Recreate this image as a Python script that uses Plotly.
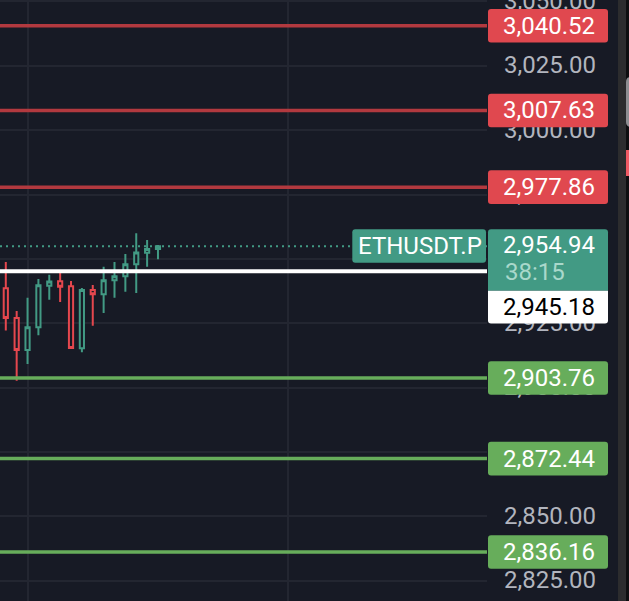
import plotly.graph_objects as go

# ---------------- data ----------------
candle_x = list(range(15))
opens = [2938.6, 2927.0, 2914.6, 2923.5, 2939.6, 2941.3, 2939.4, 2915.3,
         2937.9, 2936.3, 2941.7, 2943.3, 2947.9, 2952.4, 2953.8]
highs = [2948.8, 2929.8, 2934.9, 2942.2, 2943.8, 2944.9, 2941.4, 2938.7,
         2939.9, 2946.9, 2948.8, 2951.9, 2960.0, 2957.3, 2955.4]
lows = [2922.2, 2902.7, 2909.2, 2920.3, 2934.1, 2933.3, 2915.3, 2913.7,
        2924.0, 2929.0, 2934.9, 2937.2, 2936.8, 2946.9, 2949.9]
closes = [2927.0, 2914.6, 2923.5, 2939.8, 2941.2, 2939.2, 2915.4, 2937.9,
          2936.3, 2941.7, 2943.3, 2947.9, 2952.5, 2953.8, 2954.94]

resistance_levels = [3040.52, 3007.63, 2977.86]
support_levels = [2903.76, 2872.44, 2836.16]
white_level = 2945.18
last_price = 2954.94
countdown = "38:15"
symbol = "ETHUSDT.P"
tick_values = [2825, 2850, 2875, 2900, 2925, 2950, 2975, 3000, 3025, 3050]

# ---------------- style ----------------
BG = "#171a25"
GRID = "#232631"
TEAL = "#429a84"
RED_C = "#e5474e"
RED_LINE = "#b2393f"
RED_LABEL = "#e0484f"
GREEN = "#67ad5b"
FONT = "Roboto"
FS = 24


def rpath(x0, x1, y0, y1, rtl=3, rtr=3, rbr=3, rbl=3):
    # pixel path, y positive up: y1 top, y0 bottom
    return (f"M {x0 + rtl} {y1} L {x1 - rtr} {y1} Q {x1} {y1} {x1} {y1 - rtr} "
            f"L {x1} {y0 + rbr} Q {x1} {y0} {x1 - rbr} {y0} "
            f"L {x0 + rbl} {y0} Q {x0} {y0} {x0} {y0 + rbl} "
            f"L {x0} {y1 - rtl} Q {x0} {y1} {x0 + rtl} {y1} Z")


fig = go.Figure(go.Candlestick(
    x=candle_x, open=opens, high=highs, low=lows, close=closes,
    increasing=dict(line=dict(color=TEAL, width=2), fillcolor=BG),
    decreasing=dict(line=dict(color=RED_C, width=2), fillcolor=BG),
    whiskerwidth=0, hoverinfo="skip", showlegend=False,
))

shapes = []
annotations = []

# dotted last-price line
shapes.append(dict(type="line", xref="paper", yref="y", x0=0, x1=1,
                   y0=last_price, y1=last_price, layer="above",
                   line=dict(color=TEAL, width=2, dash="2px,4px")))

# horizontal level lines
for v in resistance_levels:
    shapes.append(dict(type="line", xref="paper", yref="y", x0=0, x1=1, y0=v, y1=v,
                       layer="above", line=dict(color=RED_LINE, width=3.5)))
for v in support_levels:
    shapes.append(dict(type="line", xref="paper", yref="y", x0=0, x1=1, y0=v, y1=v,
                       layer="above", line=dict(color=GREEN, width=3.5)))
shapes.append(dict(type="line", xref="paper", yref="y", x0=0, x1=1,
                   y0=white_level, y1=white_level, layer="above",
                   line=dict(color="#ffffff", width=4)))


def price_label(v, color):
    shapes.append(dict(type="path", xref="paper", yref="y", xsizemode="pixel",
                       ysizemode="pixel", xanchor=1, yanchor=v, layer="above",
                       path=rpath(1, 121, -16.8, 16.8), fillcolor=color,
                       line=dict(width=0)))
    annotations.append(dict(xref="paper", yref="y", x=1, y=v, xanchor="right",
                            yanchor="middle", xshift=110, showarrow=False,
                            text=f"{v:,.2f}", font=dict(family=FONT, size=FS, color="#ffffff")))


for v in resistance_levels:
    price_label(v, RED_LABEL)
for v in support_levels:
    price_label(v, GREEN)

# last price block
shapes.append(dict(type="path", xref="paper", yref="y", xsizemode="pixel",
                   ysizemode="pixel", xanchor=1, yanchor=last_price, layer="above",
                   path=rpath(1, 121, -44.5, 16.9, 3, 3, 0, 0), fillcolor=TEAL,
                   line=dict(width=0)))
shapes.append(dict(type="path", xref="paper", yref="y", xsizemode="pixel",
                   ysizemode="pixel", xanchor=1, yanchor=last_price, layer="above",
                   path=rpath(1, 121, -77.3, -44.5, 0, 0, 3, 3), fillcolor="#ffffff",
                   line=dict(width=0)))
shapes.append(dict(type="path", xref="paper", yref="y", xsizemode="pixel",
                   ysizemode="pixel", xanchor=1, yanchor=last_price, layer="above",
                   path=rpath(-134.7, -1, -16.5, 16.9), fillcolor=TEAL,
                   line=dict(width=0)))
annotations.append(dict(xref="paper", yref="y", x=1, y=last_price, xanchor="right",
                        yanchor="middle", xshift=110, yshift=1, showarrow=False,
                        text=f"{last_price:,.2f}",
                        font=dict(family=FONT, size=FS, color="#ffffff")))
annotations.append(dict(xref="paper", yref="y", x=1, y=last_price, xanchor="left",
                        yanchor="middle", xshift=16, yshift=-25.5, showarrow=False,
                        text=countdown, font=dict(family=FONT, size=FS, color="#a9d8cb")))
annotations.append(dict(xref="paper", yref="y", x=1, y=last_price, xanchor="right",
                        yanchor="middle", xshift=110, yshift=-61, showarrow=False,
                        text=f"{white_level:,.2f}",
                        font=dict(family=FONT, size=FS, color="#000000")))
annotations.append(dict(xref="paper", yref="y", x=1, y=last_price, xanchor="center",
                        yanchor="middle", xshift=-67.5, yshift=0, showarrow=False,
                        text=symbol, font=dict(family=FONT, size=FS, color="#ffffff")))

# right-edge panel strip
shapes.append(dict(type="rect", xref="paper", yref="paper", xsizemode="pixel",
                   xanchor=1, x0=131, x1=139, y0=0, y1=1, fillcolor="#2c2c2e",
                   line=dict(width=0), layer="above"))
shapes.append(dict(type="rect", xref="paper", yref="paper", xsizemode="pixel",
                   xanchor=1, x0=139, x1=145, y0=0, y1=1, fillcolor="#0e0e10",
                   line=dict(width=0), layer="above"))
shapes.append(dict(type="path", xref="paper", yref="paper", xsizemode="pixel",
                   ysizemode="pixel", xanchor=1, yanchor=1, layer="above",
                   path=rpath(139, 148, -127, -77, 5, 0, 0, 5), fillcolor="#8e8e92",
                   line=dict(width=0)))
shapes.append(dict(type="rect", xref="paper", yref="paper", xsizemode="pixel",
                   ysizemode="pixel", xanchor=1, yanchor=1, x0=139, x1=145,
                   y0=-176, y1=-150, fillcolor="#ef5963", line=dict(width=0),
                   layer="above"))

fig.update_layout(
    width=629, height=601,
    margin=dict(l=0, r=142, t=0, b=0, autoexpand=False),
    paper_bgcolor=BG, plot_bgcolor=BG,
    boxgap=0.45,
    showlegend=False,
    shapes=shapes,
    annotations=annotations,
    xaxis=dict(range=[-0.534, 44.27], tickmode="linear", tick0=2, dtick=24,
               showticklabels=False, showgrid=True, gridcolor=GRID, gridwidth=2,
               zeroline=False, showline=False, ticks="", automargin=False,
               rangeslider=dict(visible=False), fixedrange=True),
    yaxis=dict(range=[2817.14, 3050.54], side="right", tickmode="array",
               tickvals=tick_values, ticktext=[f"{t:,.2f}" for t in tick_values],
               showgrid=True, gridcolor=GRID, gridwidth=2, zeroline=False,
               showline=False, ticks="", ticklabelstandoff=16, automargin=False,
               ticklabeloverflow="allow", ticklabelshift=-1,
               tickfont=dict(family=FONT, size=FS, color="#b2b5be"), fixedrange=True),
)

fig.write_html("out.html", config={"displayModeBar": False},
               post_script="document.body.style.margin='0';document.body.style.overflow='hidden';document.body.style.background='" + BG + "';")
